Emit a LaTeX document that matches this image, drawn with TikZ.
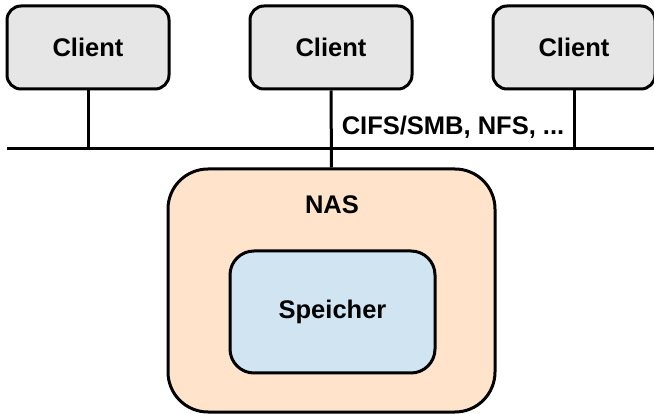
\documentclass[tikz,border=0pt]{standalone}
\usepackage{fontspec}
\setmainfont{Liberation Sans}
\definecolor{clientfill}{HTML}{E6E6E6}
\definecolor{nasfill}{HTML}{FFE3CB}
\definecolor{memfill}{HTML}{D0E4F2}
\begin{document}
\begin{tikzpicture}[x=1pt,y=-1pt,
  every node/.style={font=\fontsize{25.5}{30}\selectfont\bfseries},
  client/.style={draw, line width=3pt, rounded corners=14pt, fill=clientfill,
    minimum width=162pt, minimum height=83pt, inner sep=0pt},
  nasbox/.style={draw, line width=3pt, rounded corners=40pt, fill=nasfill,
    minimum width=327pt, minimum height=243pt, inner sep=0pt},
  membox/.style={draw, line width=3pt, rounded corners=24pt, fill=memfill,
    minimum width=205pt, minimum height=122pt, inner sep=0pt},
  wire/.style={line width=3pt}]
\useasboundingbox (0,0) rectangle (654,414);
\node[client] (c1) at (88,47.5) {Client};
\node[client] (c2) at (331,47.5) {Client};
\node[client] (c3) at (574,47.5) {Client};
\coordinate (busL) at (7,149);
\coordinate (busR) at (654,149);
\draw[wire] (busL) -- (busR);
\node[nasbox] (nas) at (331.5,290.5) {};
\node (naslabel) at (332,205) {NAS};
\node[membox] (mem) at (332.5,312) {Speicher};
\node (proto) at (453,127) {CIFS/SMB, NFS, ...};
\draw[wire] (c1.south) -- (c1.south |- busL);
\draw[wire] (c3.south) -- (c3.south |- busL);
\draw[wire] (c2.south) -- (nas.north);
\end{tikzpicture}
\end{document}
